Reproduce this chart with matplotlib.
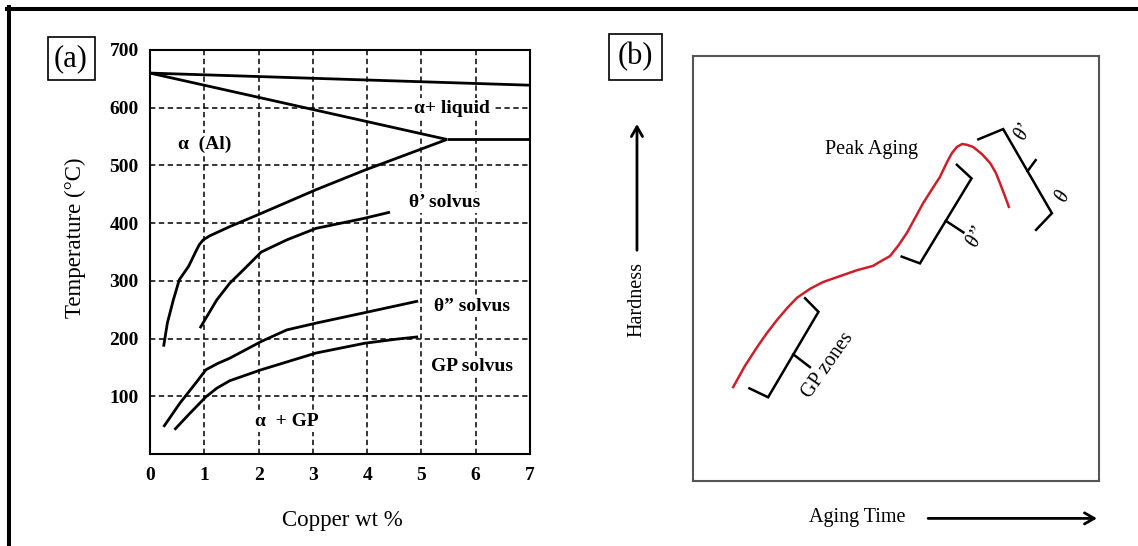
import numpy as np
import matplotlib.pyplot as plt
from matplotlib.lines import Line2D
from matplotlib.patches import Rectangle

plt.rcParams["font.family"] = ["Liberation Serif", "DejaVu Serif"]

W, H = 1138, 546   # output size in pixels (dpi = 100)

# ---------------------------------------------------------------------------
# (a) Al-rich corner of the Al-Cu phase diagram  (wt % Cu, deg C)
# ---------------------------------------------------------------------------
liquidus_cu = [0.0, 7.0]
liquidus_t = [660, 639]
solidus_cu = [0.0, 5.47]
solidus_t = [660, 545]
eutectic_cu = [5.47, 7.0]
eutectic_t = [545, 545]
alpha_solvus_cu = [5.47, 3.96, 3.06, 2.05, 1.47, 1.10, 0.98, 0.91, 0.86,
                   0.71, 0.54, 0.43, 0.32, 0.25]
alpha_solvus_t = [545, 492, 458, 417, 394, 378, 371, 363, 354,
                  325, 302, 267, 227, 186]
theta1_cu = [0.92, 1.23, 1.47, 1.72, 2.05, 2.52, 3.06, 3.93, 4.42]
theta1_t = [218, 267, 296, 319, 350, 371, 391, 408, 419]
theta2_cu = [0.25, 0.55, 0.86, 1.03, 1.25, 1.47, 2.05, 2.52, 3.07, 3.96, 4.94]
theta2_t = [47, 88, 125, 146, 157, 166, 195, 215, 227, 245, 265]
gp_cu = [0.45, 0.74, 1.03, 1.23, 1.47, 2.05, 3.06, 3.96, 4.54, 4.94]
gp_t = [42, 71, 99, 114, 127, 146, 175, 192, 199, 203]

region_labels = ["\u03b1+ liquid", "\u03b1  (Al)", "\u03b8\u2019 solvus",
                 "\u03b8\u201d solvus", "GP solvus", "\u03b1  + GP"]
region_cu = [5.56, 1.01, 5.43, 5.93, 5.93, 2.52]
region_t = [599, 537, 436, 255, 151, 56]

cu_ticks = [0, 1, 2, 3, 4, 5, 6, 7]
t_ticks = [100, 200, 300, 400, 500, 600, 700]

# ---------------------------------------------------------------------------
# (b) schematic age-hardening curve (arbitrary units, 0-100)
# ---------------------------------------------------------------------------
age_time = [9.9, 12.8, 15.8, 18.2, 20.7, 23.2, 25.6, 28.8, 32.0, 36.2, 40.4,
            44.3, 46.8, 48.5, 50.5, 52.7, 54.7, 56.7, 58.9, 60.8, 62.6, 63.8,
            65.0, 66.3, 67.5, 69.0, 71.2, 73.2, 74.6, 75.6, 76.8, 77.8]
hardness = [22.1, 27.1, 31.5, 34.8, 37.9, 40.7, 43.1, 45.2, 46.8, 48.2, 49.6,
            50.6, 52.0, 52.9, 55.3, 58.4, 61.9, 65.4, 68.7, 71.5, 75.1, 77.2,
            78.6, 79.3, 79.1, 78.6, 76.9, 74.8, 72.5, 70.1, 67.1, 64.5]

# brackets: arm end, corner, corner, arm end  + centre tick
gp_bracket_t = [13.9, 18.5, 30.9, 27.6]
gp_bracket_h = [21.8, 19.7, 39.8, 43.0]
gp_tick_t = [24.7, 28.8]
gp_tick_h = [29.8, 26.8]
th2_bracket_t = [51.4, 55.9, 68.6, 65.0]
th2_bracket_h = [52.8, 51.2, 71.2, 74.4]
th2_tick_t = [62.3, 66.6]
th2_tick_h = [61.2, 58.5]
th1_bracket_t = [70.3, 76.4, 88.4, 84.5]
th1_bracket_h = [80.4, 82.8, 63.0, 59.1]
th1_tick_t = [82.4, 84.4]
th1_tick_h = [72.9, 75.5]

stage_labels = ["GP zones", "\u03b8\u2019\u2019", "\u03b8\u2019", "\u03b8"]
stage_t = [33.3, 69.9, 81.4, 91.2]
stage_h = [27.3, 57.5, 82.2, 66.9]
stage_rot = [55, 65, 65, 65]


def fx(px):
    return px / W


def fy(py):
    return 1 - py / H


fig = plt.figure(figsize=(W / 100, H / 100), dpi=100)

# outer frame (top and left edges only)
fig.add_artist(Line2D([fx(7), 1.0], [fy(9), fy(9)], color="black", lw=2.9,
                      transform=fig.transFigure))
fig.add_artist(Line2D([fx(9), fx(9)], [fy(7), 0.0], color="black", lw=2.9,
                      transform=fig.transFigure))

# ----------------------------------------------------------------------
# panel (a)
# ----------------------------------------------------------------------
ax = fig.add_axes([fx(150), fy(454), fx(380), 404 / H])
ax.set_xlim(0, 7)
ax.set_ylim(0, 700)

grid_kw = dict(color="black", lw=1.1, linestyle=(0, (3.5, 2.3)), zorder=1)
for c in cu_ticks[1:-1]:
    ax.axvline(c, **grid_kw)
for t in t_ticks[:-1]:
    ax.axhline(t, **grid_kw)

line_kw = dict(color="black", lw=2.0, solid_capstyle="butt",
               solid_joinstyle="round", zorder=3)
ax.plot(liquidus_cu, liquidus_t, **line_kw)
ax.plot(solidus_cu, solidus_t, **line_kw)
ax.plot(eutectic_cu, eutectic_t, **line_kw)
ax.plot(alpha_solvus_cu, alpha_solvus_t, **line_kw)
ax.plot(theta1_cu, theta1_t, **line_kw)
ax.plot(theta2_cu, theta2_t, **line_kw)
ax.plot(gp_cu, gp_t, **line_kw)

for label, c, t in zip(region_labels, region_cu, region_t):
    ax.text(c, t, label, ha="center", va="center", fontsize=14,
            fontweight="bold", zorder=4,
            bbox=dict(fc="white", ec="none", pad=1.5))

ax.set_xticks(cu_ticks)
ax.set_yticks(t_ticks)
ax.tick_params(length=0, labelsize=14, pad=9)
ax.tick_params(axis="y", pad=8)
for lab in ax.get_xticklabels() + ax.get_yticklabels():
    lab.set_fontweight("bold")
for s in ax.spines.values():
    s.set_linewidth(1.5)

ax.set_xlabel("Copper wt %", fontsize=16.5, va="center")
ax.xaxis.set_label_coords(0.505, -0.165)
ax.set_ylabel("Temperature (\u00b0C)", fontsize=16.5, va="center")
ax.yaxis.set_label_coords(-0.197, 0.535)

# ----------------------------------------------------------------------
# panel (b)
# ----------------------------------------------------------------------
bx = fig.add_axes([fx(693), fy(481), fx(406), 425 / H])
bx.set_xlim(0, 100)
bx.set_ylim(0, 100)
bx.set_xticks([])
bx.set_yticks([])
for s in bx.spines.values():
    s.set_linewidth(1.5)
    s.set_color("#555555")

bx.plot(age_time, hardness, color="#cc1f2a", lw=1.8, solid_joinstyle="round")

br_kw = dict(color="black", lw=1.8, solid_joinstyle="miter")
bx.plot(gp_bracket_t, gp_bracket_h, **br_kw)
bx.plot(gp_tick_t, gp_tick_h, **br_kw)
bx.plot(th2_bracket_t, th2_bracket_h, **br_kw)
bx.plot(th2_tick_t, th2_tick_h, **br_kw)
bx.plot(th1_bracket_t, th1_bracket_h, **br_kw)
bx.plot(th1_tick_t, th1_tick_h, **br_kw)

bx.text(43.9, 78.1, "Peak Aging", ha="center", va="center", fontsize=14.5)
for label, t, h, r in zip(stage_labels, stage_t, stage_h, stage_rot):
    style = "normal" if label == "GP zones" else "italic"
    bx.text(t, h, label, ha="center", va="center", fontsize=14.5,
            rotation=r, rotation_mode="anchor", style=style)

bx.set_xlabel("Aging Time", fontsize=14.5, va="center")
bx.xaxis.set_label_coords(0.404, -0.085)
bx.set_ylabel("Hardness", fontsize=14.5, va="center")
bx.yaxis.set_label_coords(-0.138, 0.426)

arrow_kw = dict(arrowstyle="->,head_length=0.7,head_width=0.4",
                color="black", lw=2.0, shrinkA=0, shrinkB=0)
bx.annotate("", xy=(0.995, -0.088), xytext=(0.579, -0.088),
            xycoords="axes fraction", arrowprops=arrow_kw,
            annotation_clip=False)
bx.annotate("", xy=(-0.138, 0.840), xytext=(-0.138, 0.543),
            xycoords="axes fraction", arrowprops=arrow_kw,
            annotation_clip=False)

# panel tags
for tag, (x0, y0, x1, y1) in [("(a)", (47.5, 37.5, 94.5, 79.5)),
                              ("(b)", (608.5, 34, 662, 79.5))]:
    fig.add_artist(Rectangle((fx(x0), fy(y1)), fx(x1 - x0), (y1 - y0) / H,
                             fill=False, ec="black", lw=1.2,
                             transform=fig.transFigure))
    fig.text(fx((x0 + x1) / 2), fy((y0 + y1) / 2), tag, ha="center",
             va="center", fontsize=22)

fig.savefig("out.png", dpi=100)
